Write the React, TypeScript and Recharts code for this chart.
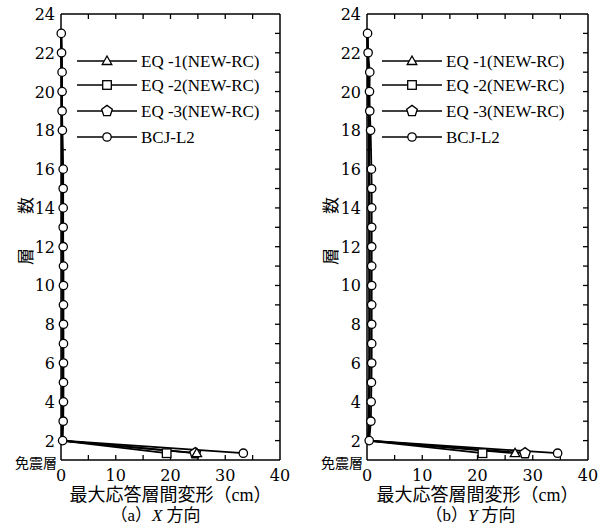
import { LineChart, Line, XAxis, YAxis, Legend } from "recharts";

// floor levels: isolation layer (plotted just above the bottom), then floors 2..23
const FLOORS = [1.35, 2, 3, 4, 5, 6, 7, 8, 9, 10, 11, 12, 13, 14, 15, 16, 17, 18, 19, 20, 21, 22, 23];
const FLOOR_LABELS = [1, 2, 4, 6, 8, 10, 12, 14, 16, 18, 20, 22, 24];
const FLOOR_MINOR = [2, 3, 4, 5, 6, 7, 8, 9, 10, 11, 12, 13, 14, 15, 16, 17, 18, 19, 20, 21, 22, 23];
const DRIFT_LABELS = [0, 10, 20, 30, 40];
const DRIFT_MINOR = [5, 10, 15, 20, 25, 30, 35];

const SERIES_NAMES = ["EQ -1(NEW-RC)", "EQ -2(NEW-RC)", "EQ -3(NEW-RC)", "BCJ-L2"];

// (a) X direction, max story drift (cm)
const X_EQ1 = [24.8, 0.2, 0.25, 0.3, 0.3, 0.3, 0.3, 0.3, 0.3, 0.3, 0.3, 0.28, 0.27, 0.26, 0.25, 0.24, 0.22, 0.2, 0.18, 0.15, 0.12, 0.08, 0.04];
const X_EQ2 = [19.3, 0.15, 0.2, 0.22, 0.24, 0.24, 0.25, 0.25, 0.25, 0.25, 0.24, 0.23, 0.22, 0.21, 0.2, 0.19, 0.18, 0.16, 0.14, 0.12, 0.1, 0.07, 0.03];
const X_EQ3 = [24.5, 0.18, 0.24, 0.28, 0.3, 0.3, 0.31, 0.31, 0.31, 0.3, 0.3, 0.29, 0.28, 0.27, 0.26, 0.25, 0.23, 0.21, 0.19, 0.16, 0.13, 0.09, 0.04];
const X_BCJ = [33.3, 0.3, 0.4, 0.45, 0.45, 0.45, 0.45, 0.45, 0.45, 0.45, 0.45, 0.4, 0.4, 0.4, 0.4, 0.4, null, 0.25, 0.2, 0.2, 0.2, 0.1, 0.05];

// (b) Y direction
const Y_EQ1 = [26.8, 0.25, 0.35, 0.4, 0.45, 0.45, 0.45, 0.45, 0.45, 0.45, 0.45, 0.45, 0.44, 0.43, 0.42, 0.4, 0.38, 0.35, 0.3, 0.26, 0.22, 0.15, 0.06];
const Y_EQ2 = [20.9, 0.2, 0.3, 0.35, 0.38, 0.4, 0.4, 0.4, 0.4, 0.4, 0.4, 0.39, 0.38, 0.37, 0.36, 0.34, 0.32, 0.3, 0.26, 0.22, 0.18, 0.12, 0.05];
const Y_EQ3 = [28.6, 0.28, 0.38, 0.43, 0.48, 0.5, 0.5, 0.5, 0.5, 0.5, 0.5, 0.49, 0.48, 0.47, 0.45, 0.43, 0.41, 0.38, 0.33, 0.28, 0.24, 0.16, 0.07];
const Y_BCJ = [34.5, 0.4, 0.7, 0.75, 0.8, 0.85, 0.85, 0.85, 0.85, 0.85, 0.85, 0.85, 0.85, 0.85, 0.85, 0.8, null, 0.65, 0.5, 0.45, 0.5, 0.2, 0.1];

const SERIF = "'DejaVu Serif', 'Liberation Serif', serif";
const LEGEND_FONT = "'Liberation Serif', serif";
const CJK = "'Noto Sans CJK JP', sans-serif";
const MIXED = "'Liberation Serif', 'Noto Sans CJK JP', serif";

const KEYS = ["eq1", "eq2", "eq3", "bcj"];
const SHAPES = ["triangle", "square", "pentagon", "circle"];
// the frame axes share the main domains; EQ-3 sits on them so they get data
const X_IDS = [0, 0, "top", 0];
const Y_IDS = [0, 0, "right", 0];

function buildRows(eq1: (number | null)[], eq2: (number | null)[], eq3: (number | null)[], bcj: (number | null)[]) {
  return FLOORS.map((floor, i) => ({ floor, eq1: eq1[i], eq2: eq2[i], eq3: eq3[i], bcj: bcj[i] }));
}

const X_ROWS = buildRows(X_EQ1, X_EQ2, X_EQ3, X_BCJ);
const Y_ROWS = buildRows(Y_EQ1, Y_EQ2, Y_EQ3, Y_BCJ);

// frame tick positions (drawn as markers of invisible helper lines, placed by the scales)
const BOTTOM_TICKS = DRIFT_MINOR.map((v) => ({ floor: 1, edge: v }));
const TOP_TICKS = DRIFT_MINOR.map((v) => ({ floor: 24, edge: v }));
const LEFT_TICKS = FLOOR_MINOR.map((f) => ({ floor: f, edge: 0 }));
const RIGHT_TICKS = FLOOR_MINOR.map((f) => ({ floor: f, edge: 40 }));
const FRAME_TICKS = [
  { id: "tb", data: BOTTOM_TICKS, dx: 0, dy: -5 },
  { id: "tt", data: TOP_TICKS, dx: 0, dy: 5 },
  { id: "tl", data: LEFT_TICKS, dx: 5, dy: 0 },
  { id: "tr", data: RIGHT_TICKS, dx: -5, dy: 0 },
];

function Marker({ shape, cx, cy }: { shape: string; cx: number; cy: number }) {
  const st = { fill: "#fff", stroke: "#000", strokeWidth: 1.3 };
  if (shape === "triangle") {
    return <polygon points={`${cx},${cy - 5} ${cx + 4.8},${cy + 3.5} ${cx - 4.8},${cy + 3.5}`} {...st} />;
  }
  if (shape === "square") {
    return <rect x={cx - 4.3} y={cy - 4.3} width={8.6} height={8.6} {...st} />;
  }
  if (shape === "pentagon") {
    const pts = [0, 1, 2, 3, 4]
      .map((k) => {
        const a = -Math.PI / 2 + (k * 2 * Math.PI) / 5;
        return `${cx + 5.6 * Math.cos(a)},${cy + 5.6 * Math.sin(a)}`;
      })
      .join(" ");
    return <polygon points={pts} {...st} />;
  }
  return <circle cx={cx} cy={cy} r={4.2} {...st} />;
}

function makeDot(shape: string, onlyFirst: boolean) {
  return (props: any) => {
    const { cx, cy, index } = props;
    if (cx == null || cy == null || (onlyFirst && index !== 0)) return <g key={`${shape}-${index}`} />;
    return (
      <g key={`${shape}-${index}`}>
        <Marker shape={shape} cx={cx} cy={cy} />
      </g>
    );
  };
}

function makeTickDot(id: string, dx: number, dy: number) {
  return (props: any) => {
    const { cx, cy, index } = props;
    if (cx == null || cy == null) return <g key={`${id}-${index}`} />;
    return <line key={`${id}-${index}`} x1={cx} y1={cy} x2={cx + dx} y2={cy + dy} stroke="#000" strokeWidth={1.3} />;
  };
}

function NoLabel() {
  return <g />;
}

function LegendBox() {
  return (
    <svg width={230} height={100}>
      {SERIES_NAMES.map((name, i) => {
        const y = [13, 37, 63, 89][i];
        return (
          <g key={name}>
            <line x1={7} x2={67} y1={y} y2={y} stroke="#000" strokeWidth={1.6} />
            <Marker shape={SHAPES[i]} cx={37} cy={y} />
            <text x={71} y={y + 6} fontSize={17} fontFamily={LEGEND_FONT} fill="#000">
              {name}
            </text>
          </g>
        );
      })}
    </svg>
  );
}

function FloorTick(props: any) {
  const { x, y, payload } = props;
  if (payload.value === 1) {
    return (
      <text x={x + 2} y={y + 8} textAnchor="end" fontSize={14} fontFamily={CJK} fill="#000">
        免震層
      </text>
    );
  }
  return (
    <text x={x} y={y + 6} textAnchor="end" fontSize={16} fontFamily={SERIF} fill="#000">
      {payload.value}
    </text>
  );
}

const FRAME = { stroke: "#000", strokeWidth: 1.5 };

function Panel({ rows, letter, dir, captionDx, yWidth, right }: any) {
  const xTitle = (p: any) => {
    const vb = p.viewBox;
    const cx = vb.x + vb.width / 2;
    return (
      <g>
        <text x={cx} y={501} textAnchor="middle" fontSize={18} fontFamily={MIXED} fill="#000">
          最大応答層間変形（cm）
        </text>
        <text x={cx + captionDx} y={521} textAnchor="middle" fontSize={17} fontFamily={MIXED} fill="#000">
          （{letter}）
          <tspan fontStyle="italic">{dir}</tspan> 方向
        </text>
      </g>
    );
  };
  const yTitle = (p: any) => {
    const vb = p.viewBox;
    const cy = vb.y + vb.height / 2 - 6;
    return (
      <text x={24} y={cy} transform={`rotate(-90, 24, ${cy})`} textAnchor="middle" dominantBaseline="central" fontSize={17} fontFamily={CJK} fill="#000">
        層　　数
      </text>
    );
  };

  return (
    <LineChart
      width={305}
      height={529}
      data={rows}
      layout="vertical"
      margin={{ top: 13, right: right - 1, bottom: 39, left: 0 }}
    >
      <XAxis
        type="number"
        domain={[0, 40]}
        ticks={DRIFT_LABELS}
        interval={0}
        tickLine={false}
        tickSize={0}
        tickMargin={10}
        height={30}
        axisLine={FRAME}
        tick={{ fontSize: 16, fontFamily: SERIF, fill: "#000" }}
        label={xTitle}
      />
      <XAxis
        xAxisId="top"
        type="number"
        orientation="top"
        height={1}
        domain={[0, 40]}
        ticks={DRIFT_LABELS}
        tick={<NoLabel />}
        tickLine={false}
        axisLine={FRAME}
      />
      <YAxis
        type="number"
        dataKey="floor"
        domain={[1, 24]}
        reversed
        ticks={FLOOR_LABELS}
        interval={0}
        width={yWidth}
        tickLine={false}
        tickSize={0}
        tickMargin={6}
        axisLine={FRAME}
        tick={<FloorTick />}
        label={yTitle}
      />
      <YAxis
        yAxisId="right"
        type="number"
        dataKey="floor"
        orientation="right"
        width={1}
        reversed
        domain={[1, 24]}
        ticks={FLOOR_LABELS}
        tick={<NoLabel />}
        tickLine={false}
        axisLine={FRAME}
      />
      <Legend
        layout="vertical"
        verticalAlign="middle"
        align="center"
        wrapperStyle={{ left: 70, top: 48, width: 230, height: 100 }}
        content={() => <LegendBox />}
      />
      {FRAME_TICKS.map((t) => (
        <Line
          key={t.id}
          data={t.data}
          dataKey="edge"
          stroke="none"
          strokeWidth={0}
          dot={makeTickDot(t.id, t.dx, t.dy)}
          activeDot={false}
          legendType="none"
          isAnimationActive={false}
        />
      ))}
      {[2, 1, 0, 3].map((i) => (
        <Line
          key={KEYS[i]}
          dataKey={KEYS[i]}
          name={SERIES_NAMES[i]}
          xAxisId={X_IDS[i]}
          yAxisId={Y_IDS[i]}
          stroke="#000"
          strokeWidth={1.8}
          connectNulls
          dot={makeDot(SHAPES[i], i !== 3)}
          activeDot={false}
          isAnimationActive={false}
        />
      ))}
    </LineChart>
  );
}

export default function App() {
  return (
    <div style={{ position: "absolute", left: 0, top: 0, width: 610, height: 529, background: "#fff" }}>
      <div style={{ position: "absolute", left: 0, top: 0 }}>
        <Panel rows={X_ROWS} letter="a" dir="X" captionDx={-15} yWidth={61} right={25} />
      </div>
      <div style={{ position: "absolute", left: 305, top: 0 }}>
        <Panel rows={Y_ROWS} letter="b" dir="Y" captionDx={-7} yWidth={62} right={22} />
      </div>
    </div>
  );
}
